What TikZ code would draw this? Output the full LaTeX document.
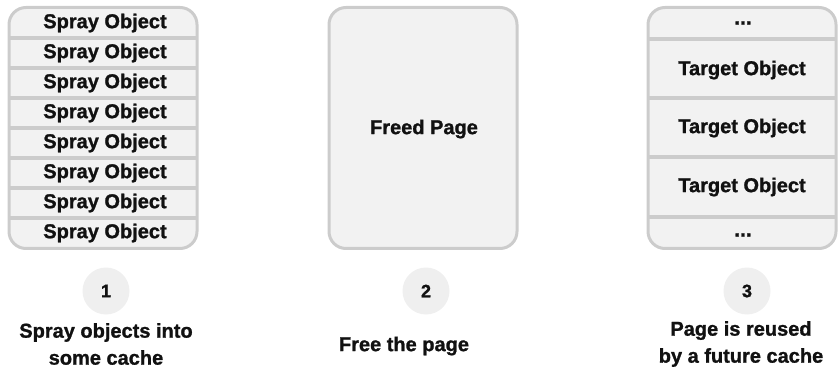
\documentclass[tikz,border=0pt]{standalone}
\usepackage{fontspec}
\setmainfont{Liberation Sans}[BoldFeatures={FakeBold=1.2}]
\begin{document}
\begin{tikzpicture}[x=1pt,y=-1pt,
  pagebox/.style={draw=boxline,line width=3pt,fill=boxfill,rounded corners=17pt,minimum width=188pt,minimum height=241pt,inner sep=0pt},
  divider/.style={draw=boxline,line width=3.5pt},
  celltext/.style={font=\fontsize{20}{24}\selectfont\bfseries,text=inkc,inner sep=0pt},
  dotstext/.style={font=\fontsize{21}{24}\selectfont\bfseries,text=inkc,inner sep=0pt},
  stepnum/.style={circle,fill=numfill,minimum size=47pt,inner sep=0pt,font=\fontsize{18}{20}\selectfont\bfseries,text=inkc},
  caption/.style={font=\fontsize{20}{27}\selectfont\bfseries,text=inkc,align=center,inner sep=0pt}
]
\definecolor{boxline}{HTML}{CCCCCC}
\definecolor{boxfill}{HTML}{F2F2F2}
\definecolor{numfill}{HTML}{EFEFEF}
\definecolor{inkc}{HTML}{111111}
\useasboundingbox (0,0) rectangle (838,374);

% ---- column 1
\node[pagebox,draw=none] (p1) at (103,128) {};
\foreach \yy in {38,68,98,128,158,188,218}
  \draw[divider] (9,\yy) -- (197,\yy);
\node[pagebox,fill=none] (p1b) at (103,128) {};
\foreach \i/\yy in {1/23,2/53,3/83,4/113,5/143,6/173,7/203,8/233}
  \node[celltext] (s\i) at (105,\yy) {Spray Object};

% ---- column 2
\node[pagebox] (p2) at (423,128) {};
\node[celltext] (fp) at (424,129) {Freed Page};

% ---- column 3
\node[pagebox,draw=none] (p3) at (742,128) {};
\foreach \yy in {39,98,157,217}
  \draw[divider] (648,\yy) -- (836,\yy);
\node[pagebox,fill=none] (p3b) at (742,128) {};
\node[dotstext] (d1) at (743,23) {...};
\node[celltext] (t1) at (742,70) {Target Object};
\node[celltext] (t2) at (742,128) {Target Object};
\node[celltext] (t3) at (742,187) {Target Object};
\node[dotstext] (d2) at (743,235) {...};

% ---- steps
\node[stepnum] (n1) at (106,291) {1};
\node[stepnum] (n2) at (426,291) {2};
\node[stepnum] (n3) at (747,291) {3};

\node[caption] (c1) at (106,344) {Spray objects into\\some cache};
\node[caption] (c2) at (404,346) {Free the page};
\node[caption] (c3) at (741,344) {Page is reused\\by a future cache};
\end{tikzpicture}
\end{document}
